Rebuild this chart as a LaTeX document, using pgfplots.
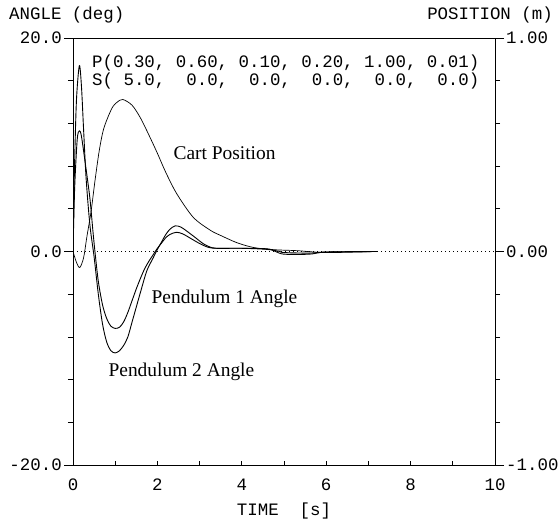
\documentclass[border=0pt]{standalone}
\usepackage{fontspec}
\setmainfont{Liberation Mono}
\newfontfamily\lblfont{Liberation Serif}
\usepackage{pgfplots}
\pgfplotsset{compat=1.18}

\pgfplotsset{
  base/.style={
    width=422bp, height=427bp, scale only axis,
    at={(0,0)}, anchor=south west,
    xmin=0, xmax=10,
    axis line style={line width=0.8bp},
    tick style={black, line width=0.7bp},
    ticklabel style={font=\fontsize{17.5}{18}\selectfont},
  },
}

\begin{document}
\begin{tikzpicture}
\useasboundingbox (-73bp,-57bp) rectangle (485bp,465bp);

% angles, x axis
\begin{axis}[base,
    ymin=-20, ymax=20,
    xtick={0,2,...,10}, xticklabels={0,2,4,6,8,10},
    minor xtick={1,3,5,7,9},
    xtick pos=bottom, ytick=\empty,
    tick align=inside,
    major tick length=4bp, minor tick length=4bp,
    xticklabel style={yshift=-10bp},
  ]
  \draw[line width=0.6bp, dash pattern=on 1.2bp off 2.8bp] (axis cs:0,0) -- (axis cs:10,0);
  % pendulum 1
  \addplot[black, line width=0.9bp, smooth, tension=0.5] coordinates {
    (0,0) (0.04,6) (0.1,10.5) (0.15,11.3) (0.2,10.8) (0.3,8) (0.4,5)
    (0.47,2) (0.52,0) (0.6,-2.8) (0.7,-5) (0.8,-6.3) (0.9,-7) (1.0,-7.2)
    (1.1,-7.1) (1.2,-6.6) (1.3,-5.7) (1.4,-4.6) (1.5,-3.5) (1.6,-2.5)
    (1.7,-1.6) (1.8,-0.9) (1.9,-0.3) (2.0,0.3) (2.1,0.8) (2.2,1.3)
    (2.3,1.6) (2.45,1.8) (2.6,1.65) (2.8,1.2) (3.0,0.75) (3.2,0.4)
    (3.4,0.3) (4.0,0.3) (4.6,0.2) (4.9,0) (5.0,-0.1) (5.6,-0.15)
    (6.0,-0.05) (7.2,0)
  };
  % pendulum 2
  \addplot[black, line width=0.9bp, smooth, tension=0.5] coordinates {
    (0,0) (0.03,6.9) (0.08,14) (0.15,17.4) (0.2,15.5) (0.25,11.5)
    (0.31,6.9) (0.4,2.5) (0.5,-0.5) (0.6,-4) (0.7,-6.8) (0.8,-8.5)
    (0.9,-9.3) (1.0,-9.5) (1.1,-9.3) (1.2,-8.8) (1.3,-8) (1.4,-6.6)
    (1.5,-5.2) (1.6,-3.8) (1.75,-1.8) (1.9,-0.6) (2.0,0.2) (2.1,0.9)
    (2.2,1.6) (2.3,2.1) (2.42,2.4) (2.55,2.3) (2.7,1.9) (2.9,1.3)
    (3.1,0.7) (3.3,0.35) (3.5,0.3) (4.0,0.3) (4.6,0.25) (4.8,0)
    (5.0,-0.25) (5.6,-0.25) (6.0,-0.05) (7.2,0)
  };
  \node[anchor=west, font=\lblfont\fontsize{19.5}{20}\selectfont] at (axis cs:2.3,9.2) {Cart Position};
  \node[anchor=west, font=\lblfont\fontsize{19.5}{20}\selectfont] at (axis cs:1.78,-4.4) {Pendulum 1 Angle};
  \node[anchor=west, font=\lblfont\fontsize{19.5}{20}\selectfont] at (axis cs:0.76,-11.3) {Pendulum 2 Angle};
  \node[anchor=west, font=\fontsize{17.5}{18}\selectfont, inner sep=0] at (axis cs:0.45,17.7) {P(0.30,~0.60,~0.10,~0.20,~1.00,~0.01)};
  \node[anchor=west, font=\fontsize{17.5}{18}\selectfont, inner sep=0] at (axis cs:0.45,16.0) {S(~5.0,~~0.0,~~0.0,~~0.0,~~0.0,~~0.0)};
\end{axis}

% left y axis
\begin{axis}[base,
    ymin=-20, ymax=20,
    xtick=\empty, ytick pos=left,
    ytick={-20,0,20}, yticklabels={-20.0,0.0,20.0},
    minor ytick={-16,-12,...,16},
    tick align=outside,
    major tick length=9bp, minor tick length=5bp,
    yticklabel style={inner xsep=2bp},
  ]
\end{axis}

% right y axis, cart position
\begin{axis}[base,
    ymin=-1, ymax=1,
    xtick=\empty, ytick pos=right, yticklabel pos=right,
    ytick={-1,0,1}, yticklabels={-1.00,0.00,1.00},
    minor ytick={-0.8,-0.6,...,0.8},
    tick align=outside,
    major tick length=9bp, minor tick length=5bp,
    yticklabel style={inner xsep=2bp},
  ]
  \addplot[black, line width=0.7bp, smooth, tension=0.5] coordinates {
    (0,0) (0.08,-0.05) (0.16,-0.075) (0.25,-0.03) (0.33,0.07) (0.43,0.19)
    (0.52,0.33) (0.62,0.47) (0.72,0.57) (0.85,0.64) (0.95,0.68) (1.05,0.70)
    (1.18,0.712) (1.4,0.685) (1.6,0.625) (1.8,0.545) (2.0,0.46) (2.2,0.37)
    (2.46,0.27) (2.85,0.16) (3.25,0.1) (3.5,0.075) (3.9,0.04) (4.3,0.018)
    (4.8,0.008) (5.3,0.004) (6.0,-0.005) (7.2,0)
  };
\end{axis}

\node[anchor=west, font=\fontsize{17.5}{18}\selectfont, inner sep=0] at (-64bp,450bp) {ANGLE (deg)};
\node[anchor=east, font=\fontsize{17.5}{18}\selectfont, inner sep=0] at (480bp,450bp) {POSITION (m)};
\node[font=\fontsize{17.5}{18}\selectfont, inner sep=0] at (211bp,-46bp) {TIME~~[s]};
\end{tikzpicture}
\end{document}
